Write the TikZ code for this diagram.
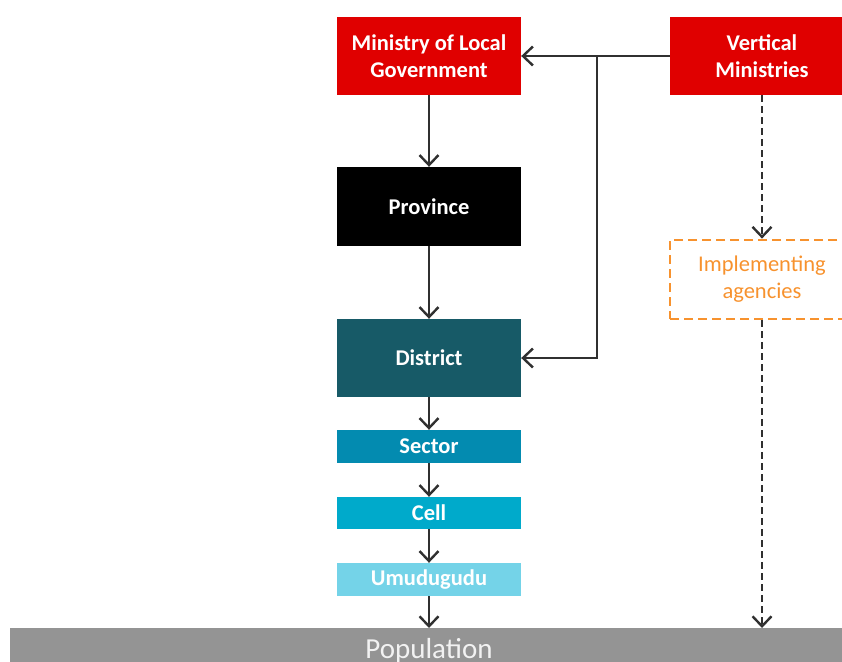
\documentclass[tikz,border=0pt]{standalone}
\usepackage{fontspec}
\setmainfont{Carlito}
\usetikzlibrary{arrows.meta}
\definecolor{govred}{HTML}{E00000}
\definecolor{distteal}{HTML}{175A67}
\definecolor{sectblue}{HTML}{038BB0}
\definecolor{cellblue}{HTML}{00AACB}
\definecolor{umublue}{HTML}{74D3E8}
\definecolor{popgray}{HTML}{949494}
\definecolor{agorange}{HTML}{F7922E}
\definecolor{linkgray}{HTML}{303030}
\tikzset{
  level/.style={rectangle, minimum width=184pt, inner sep=0pt, text=white,
    font=\fontsize{22.5}{27}\selectfont\bfseries, align=center},
  link/.style={draw=linkgray, line width=2.4pt,
    -{Straight Barb[length=10pt,width=19pt,line width=2.4pt]}},
  dlink/.style={link, dash pattern=on 7pt off 4pt},
}
\begin{document}
\begin{tikzpicture}[x=1pt,y=-1pt]
\useasboundingbox (0,0) rectangle (842,661);
\clip (0,0) rectangle (842,661);
% administrative levels
\node[level, fill=govred, minimum height=78pt] (mlg) at (429,56) {Ministry of Local\\Government};
\node[level, fill=govred, minimum height=78pt] (vm) at (762,56) {Vertical\\Ministries};
\node[level, fill=black, minimum height=79pt] (prov) at (429,206.5) {Province};
\node[level, fill=distteal, minimum height=78pt] (dist) at (429,358) {District};
\node[level, fill=sectblue, minimum height=33pt] (sect) at (429,446.5) {Sector};
\node[level, fill=cellblue, minimum height=32pt] (cell) at (429,513) {Cell};
\node[level, fill=umublue, minimum height=33pt] (umu) at (429,579.5) {Umudugudu};
\node[rectangle, minimum width=184pt, minimum height=79pt, draw=agorange,
  line width=2.8pt, dash pattern=on 9pt off 5pt, text=agorange, align=center,
  font=\fontsize{22.5}{27}\selectfont] (impl) at (762,279.5) {Implementing\\agencies};
\node[rectangle, fill=popgray, minimum width=850pt, minimum height=40pt,
  inner sep=0pt, anchor=north west] (pop) at (10,628) {};
\node[text=white!88!popgray, font=\fontsize{29}{32}\selectfont, anchor=base]
  (poplabel) at (429,658) {Population};
\coordinate (popleft) at (429,628);
\coordinate (popright) at (762,628);
\coordinate (branch) at (597,56);
\coordinate (corner) at (597,358);
% hierarchy links
\draw[link] (mlg) -- (prov);
\draw[link] (prov) -- (dist);
\draw[link] (dist) -- (sect);
\draw[link] (sect) -- (cell);
\draw[link] (cell) -- (umu);
\draw[link] (umu) -- (popleft);
\draw[link] (vm) -- (mlg);
\draw[link] (branch) -- (corner) -- (dist.east);
\draw[dlink] (vm) -- (impl);
\draw[dlink] (impl) -- (popright);
\end{tikzpicture}
\end{document}
